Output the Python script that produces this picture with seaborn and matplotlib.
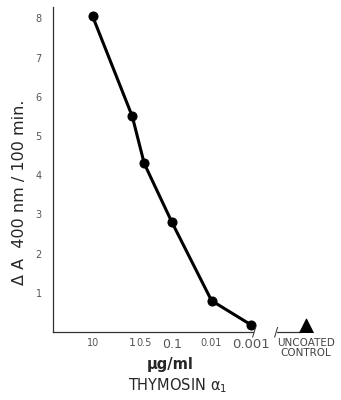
import matplotlib
matplotlib.use("Agg")
import matplotlib.pyplot as plt
import seaborn as sns
import pandas as pd

# ---- data ----
concentration = [10, 1, 0.5, 0.1, 0.01, 0.001]          # ug/ml thymosin alpha1
delta_a = [8.05, 5.5, 4.3, 2.8, 0.8, 0.18]              # delta A 400nm / 100 min
control_label = "UNCOATED\nCONTROL"
control_value = 0.15
xtick_values = [10, 1, 0.5, 0.1, 0.01, 0.001]
xtick_labels = ["10", "1", "0.5", "0.1", "0.01", "0.001"]
ytick_values = [1, 2, 3, 4, 5, 6, 7, 8]

CONTROL_X = 4.2e-5

sns.set_style("white")
plt.rcParams["font.family"] = ["DejaVu Sans"]

fig = plt.figure(figsize=(3.41, 4.0), dpi=100)
ax = fig.add_axes([0.155, 0.17, 0.80, 0.8135])

df = pd.DataFrame({"conc": concentration, "val": delta_a})
sns.lineplot(data=df, x="conc", y="val", ax=ax, color="black", lw=2.2,
             marker="o", markersize=6.5, markeredgecolor="black", sort=False)
sns.scatterplot(x=[CONTROL_X], y=[control_value], marker="^", s=110,
                color="black", edgecolor="black", ax=ax, zorder=5)

ax.set_xscale("log")
ax.set_xlim(101, 10 ** -4.88)
ax.set_ylim(0, 8.3)

ax.set_xticks(xtick_values)
ax.set_xticklabels(xtick_labels)
ax.minorticks_off()
ax.set_yticks(ytick_values)
ax.set_yticklabels([str(v) for v in ytick_values])

ax.tick_params(axis="both", direction="in", length=3, width=0.8,
               colors="#333333", labelsize=7, labelcolor="#555555")
ax.tick_params(axis="y", pad=8)
ax.tick_params(axis="x", pad=4)
for lbl, sz in zip(ax.get_xticklabels(), [7, 8, 7, 9, 7, 9.5]):
    lbl.set_fontsize(sz)

for s in ["top", "right"]:
    ax.spines[s].set_visible(False)
ax.spines["left"].set_linewidth(0.9)
ax.spines["left"].set_color("#333333")
ax.spines["bottom"].set_linewidth(0.9)
ax.spines["bottom"].set_color("#333333")
ax.spines["bottom"].set_bounds(101, 0.00088)
# short axis segment near the control
ax.plot([2.2e-4, 5.5e-5], [0, 0], color="#333333", lw=0.9, clip_on=False)
# break marks
for xb in [0.00085, 2.3e-4]:
    ax.text(xb, 0, "/", ha="center", va="center", fontsize=9, color="#333333")

ax.text(CONTROL_X, -0.15, control_label, ha="center", va="top",
        fontsize=7.5, color="#444444", linespacing=1.05)

ax.set_xlabel("")
ax.set_ylabel("Δ A  400 nm / 100 min.", fontsize=11.5)
ax.yaxis.set_label_coords(-0.095, 0.43)

fig.text(0.50, 0.0875, "μg/ml", ha="center", va="center", fontsize=10.5, fontweight="bold")
fig.text(0.52, 0.037, "THYMOSIN α$_1$", ha="center", va="center", fontsize=10.5,
         fontweight="medium")

fig.savefig("out.png", dpi=100)
